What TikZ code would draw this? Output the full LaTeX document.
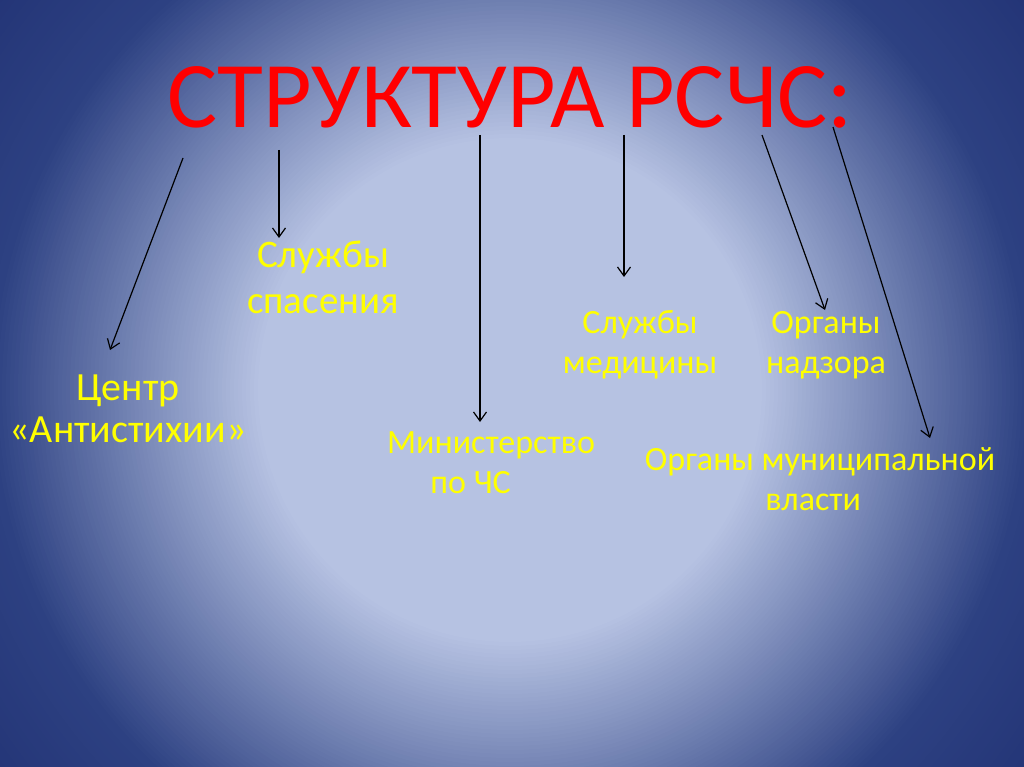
\documentclass[tikz,border=0pt]{standalone}
\usepackage{fontspec}
\setmainfont{Carlito}
\usetikzlibrary{arrows.meta}
\definecolor{bgin}{RGB}{183,195,227}
\definecolor{bgout}{RGB}{45,65,130}
\definecolor{bgdark}{RGB}{35,52,118}
\definecolor{ttl}{RGB}{255,0,0}
\definecolor{lbl}{RGB}{255,255,0}
\begin{document}
\begin{tikzpicture}[x=1pt,y=-1pt,
  lab/.style={text=lbl, align=center, inner sep=0pt, anchor=base},
  big/.style={lab, font=\fontsize{39}{46}\selectfont},
  small/.style={lab, font=\fontsize{34}{40}\selectfont},
  arr/.style={-{Straight Barb[length=9pt,width=13pt]}, line width=1.2pt, black}]
\useasboundingbox (0,0) rectangle (1024,767);
\begin{scope}
\clip (0,0) rectangle (1024,767);
\fill[bgdark] (0,0) rectangle (1024,767);
\foreach \r in {660,655,...,525} {
  \pgfmathsetmacro\p{min(100,(660-\r)/140*100)}
  \fill[bgout!\p!bgdark] (510,390) circle (\r);
}
\foreach \r in {520,516,...,250} {
  \pgfmathsetmacro\p{min(100,(\r-250)/270*100)}
  \fill[bgout!\p!bgin] (510,390) circle (\r);
}
\end{scope}
\node[anchor=base, text=ttl, inner sep=0pt, font=\fontsize{94}{110}\selectfont] (title) at (510,128) {СТРУКТУРА РСЧС:};
\node[lab, font=\fontsize{40}{42}\selectfont] (centr) at (128,442) {Центр\\«Антистихии»};
\node[big] (spas) at (323,313) {Службы\\спасения};
\node[small] (mchs) at (491,493) {Министерство\\по ЧС\hspace*{1.2em}};
\node[small] (med) at (640,373) {Службы\\медицины};
\node[small] (nadz) at (826,373) {Органы\\надзора};
\node[small] (mun) at (820,510) {Органы муниципальной\\власти\hspace*{0.4em}};
\coordinate (s1) at (183,158); \coordinate (e1) at (110,350);
\coordinate (s2) at (279,150); \coordinate (e2) at (279,238);
\coordinate (s3) at (480,135); \coordinate (e3) at (480,422);
\coordinate (s4) at (624,135); \coordinate (e4) at (624,277);
\coordinate (s5) at (762,135); \coordinate (e5) at (825,310);
\coordinate (s6) at (833,127); \coordinate (e6) at (930,438);
\draw[arr] (s1) -- (e1);
\draw[arr] (s2) -- (e2);
\draw[arr] (s3) -- (e3);
\draw[arr] (s4) -- (e4);
\draw[arr] (s5) -- (e5);
\draw[arr] (s6) -- (e6);
\end{tikzpicture}
\end{document}
